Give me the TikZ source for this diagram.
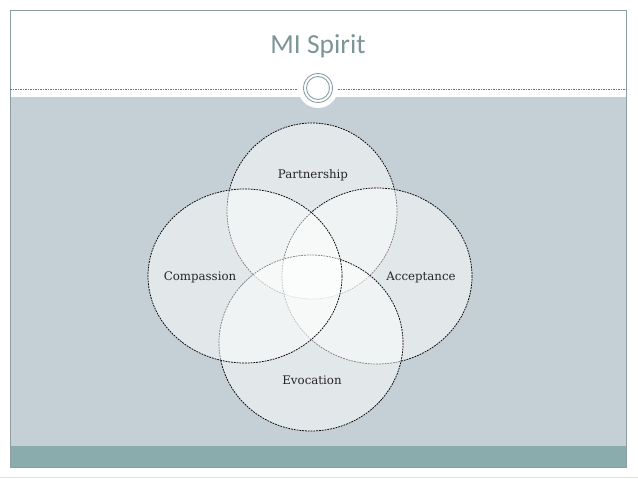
\documentclass[tikz,border=0pt]{standalone}
\usepackage{fontspec}
\setmainfont{DejaVu Serif}
\newfontfamily\titlefont{Carlito}
\definecolor{bandgrey}{HTML}{C5D0D6}
\definecolor{teal}{HTML}{8AACAD}
\definecolor{framegrey}{HTML}{8C9EA2}
\definecolor{titlecol}{HTML}{7D9597}
\definecolor{ringcol}{HTML}{8AA3A6}
\definecolor{labelcol}{HTML}{262626}
\tikzset{
  venn/.style={fill=white, fill opacity=.5, draw=black, draw opacity=1, line width=.75pt, dash pattern=on 1.8pt off 1pt},
  vlabel/.style={font=\fontsize{11.8}{14}\selectfont, text=labelcol, inner sep=0pt},
}
\begin{document}
\begin{tikzpicture}[x=1pt,y=-1pt]
\useasboundingbox (0,0) rectangle (638,479);
\fill[white] (0,0) rectangle (638,479);
% slide shadow line
\draw[black!12, line width=.8pt] (0,477) -- (638,477);
% band and bar
\fill[bandgrey] (10,97) rectangle (626,446);
\fill[teal] (10,446) rectangle (626,467);
\draw[framegrey, line width=.8pt] (10,10) rectangle (626,467);
% dashed rule
\draw[black!55, line width=.5pt, dash pattern=on 1.5pt off 1pt] (10,89) -- (298,89);
\draw[black!55, line width=.5pt, dash pattern=on 1.5pt off 1pt] (338,89) -- (626,89);
% ornament
\fill[white] (318,88) circle (20);
\draw[ringcol, line width=.9pt] (318,88) circle (14.5);
\draw[ringcol, line width=.9pt] (318,88) circle (11.5);
% title
\node[font=\titlefont\fontsize{27.5}{32}\selectfont, text=titlecol] (title) at (318,46) {MI Spirit};
% venn circles
\path[venn] (312,211) ellipse [x radius=85, y radius=88];
\path[venn] (377,276) ellipse [x radius=95, y radius=88];
\path[venn] (311,343) ellipse [x radius=92, y radius=88];
\path[venn] (245,276) ellipse [x radius=97, y radius=87];
% labels
\node[vlabel] (partnership) at (313,175) {Partnership};
\node[vlabel] (compassion) at (200,277) {Compassion};
\node[vlabel] (acceptance) at (421,277) {Acceptance};
\node[vlabel] (evocation) at (312,380) {Evocation};
\end{tikzpicture}
\end{document}
